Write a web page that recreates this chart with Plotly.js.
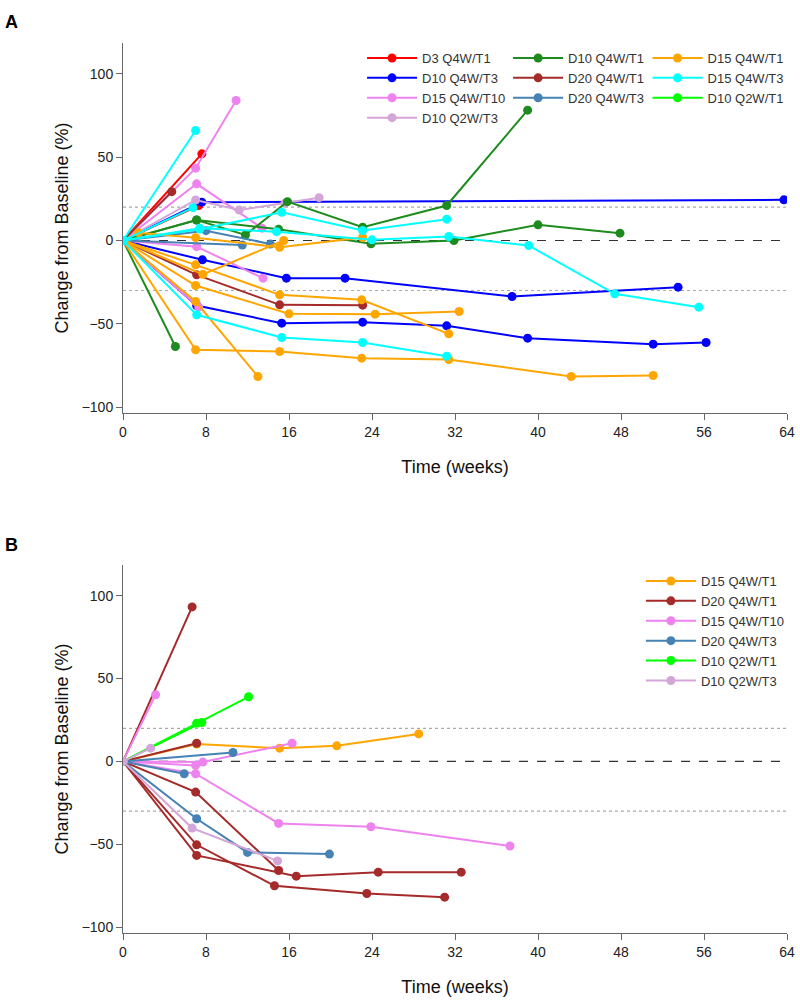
<!DOCTYPE html>
<html>
<head>
<meta charset="utf-8">
<script src="https://cdn.plot.ly/plotly-3.0.1.min.js"></script>
<style>
  html, body { margin: 0; padding: 0; background: #fff; }
  #chart { width: 800px; height: 1000px; }
</style>
</head>
<body>
<div id="chart"></div>
<script>
// ==== Panel A : weeks / % change per patient, grouped by cohort ====
const aD3Q4wT1Wk = [[0, 7.6], [0, 7.3]];
const aD3Q4wT1Pct = [[0, 52], [0, 21]];

const aD10Q4wT3Wk = [[0, 7.6, 63.7], [0, 7.65, 15.75, 21.4, 37.5, 53.5], [0, 7.1, 15.3, 23.1, 31.2, 39, 51.1, 56.2]];
const aD10Q4wT3Pct = [[0, 23, 24.4], [0, -11.6, -22.6, -22.6, -33.6, -28], [0, -39, -49.6, -49, -51.2, -58.6, -62.2, -61.2]];

const aD15Q4wT10Wk = [[0, 7, 10.9], [0, 7.1, 13.4], [0, 7.1, 13.5], [0, 7.3]];
const aD15Q4wT10Pct = [[0, 43.4, 84], [0, 34, 7.4], [0, -3.7, -22.6], [0, -40]];

const aD10Q2wT3Wk = [[0, 7, 11.2, 15.6, 18.9]];
const aD10Q2wT3Pct = [[0, 24.3, 18.3, 22.3, 25.7]];

const aD10Q4wT1Wk = [[0, 7.1, 11.8, 15.85, 23.1, 31.2, 39], [0, 7.1, 15, 23.9, 31.9, 40, 47.9], [0, 5.05]];
const aD10Q4wT1Pct = [[0, 12.3, 3.3, 23.3, 8, 21, 78.2], [0, 12.3, 6.7, -2, 0, 9.4, 4.4], [0, -63.6]];

const aD20Q4wT1Wk = [[0, 4.7], [0, 7.1, 15.1, 23.1]];
const aD20Q4wT1Pct = [[0, 29.3], [0, -20.6, -38.6, -38.8]];

const aD20Q4wT3Wk = [[0, 8, 14.2], [0, 11.5]];
const aD20Q4wT3Pct = [[0, 5.9, -2.1], [0, -2.7]];

const aD15Q4wT1Wk = [[0, 1.5, 7, 15.1, 23.1], [0, 7.7, 15.5], [0, 7, 15.1, 23, 31.4], [0, 7, 16, 24.3, 32.4], [0, 7, 13], [0, 7, 15.1, 23, 31.4, 43.2, 51.1]];
const aD15Q4wT1Pct = [[0, 4.7, 1.7, -4.1, 1.8], [0, -20.3, 0], [0, -14.6, -32.6, -35.6, -56], [0, -27, -44, -44.2, -42.6], [0, -36.6, -81.6], [0, -65.6, -66.6, -70.6, -71.4, -81.6, -81]];

const aD15Q4wT3Wk = [[0, 7], [0, 6.75], [0, 7.4, 15.3, 23.1, 31.2], [0, 7.4, 14.8, 24, 31.4, 39.1, 47.4, 55.5], [0, 7.1, 15.3, 23.1, 31.2]];
const aD15Q4wT3Pct = [[0, 66], [0, 19.7], [0, 6.8, 16.9, 6, 12.8], [0, 7.4, 5.3, 0.4, 2.4, -3, -32, -40], [0, -44.6, -58.2, -61.2, -69.4]];

// 凡例のみ（Aでは点なし）
const aD10Q2wT1Wk = [];
const aD10Q2wT1Pct = [];

// ==== Panel B ====
const bD15Q4wT1Wk = [[0, 7.1, 15.1, 20.6, 28.5]];
const bD15Q4wT1Pct = [[0, 10.5, 8, 9.4, 16.6]];

const bD20Q4wT1Wk = [[0, 6.66], [0, 7.1], [0, 7, 15], [0, 7.1, 14.6, 23.5, 31], [0, 7.1, 16.7, 24.6, 32.6]];
const bD20Q4wT1Pct = [[0, 93.2], [0, 11], [0, -18.5, -65.8], [0, -50.3, -75, -79.7, -81.9], [0, -56.7, -69.2, -66.8, -66.8]];

const bD15Q4wT10Wk = [[0, 3.14], [0, 7], [0, 7.7, 16.3], [0, 7, 15, 23.9, 37.3]];
const bD15Q4wT10Pct = [[0, 40.2], [0, -2.4], [0, -0.4, 11], [0, -7.4, -37.4, -39.4, -51]];

const bD20Q4wT3Wk = [[0, 10.6], [0, 5.9], [0, 7.1, 12, 19.9]];
const bD20Q4wT3Pct = [[0, 5.4], [0, -7.4], [0, -34.6, -54.9, -55.9]];

const bD10Q2wT1Wk = [[0, 7.1, 12.1], [0, 7.6]];
const bD10Q2wT1Pct = [[0, 23.1, 39], [0, 23.5]];

const bD10Q2wT3Wk = [[0, 2.66], [0, 6.66, 14.9]];
const bD10Q2wT3Pct = [[0, 8], [0, -40.2, -60]];

// 軸・参照線
const xTicks = [0, 8, 16, 24, 32, 40, 48, 56, 64];
const yTicks = [-100, -50, 0, 50, 100];
const dottedLevels = [20, -30];
const dashedLevel = 0;

// ==== 色 ====
const groupColors = {
  "D3 Q4W/T1": "#ff0000",
  "D10 Q4W/T3": "#0000ff",
  "D15 Q4W/T10": "#ee82ee",
  "D10 Q2W/T3": "#d4a5d9",
  "D10 Q4W/T1": "#1e8b1e",
  "D20 Q4W/T1": "#a52a2a",
  "D20 Q4W/T3": "#4682b4",
  "D15 Q4W/T1": "#ffa500",
  "D15 Q4W/T3": "#00ffff",
  "D10 Q2W/T1": "#00ff00"
};

// [name, weeks, pct, legend]
const panelA = [
  ["D3 Q4W/T1", aD3Q4wT1Wk, aD3Q4wT1Pct, "legend"],
  ["D10 Q4W/T3", aD10Q4wT3Wk, aD10Q4wT3Pct, "legend"],
  ["D15 Q4W/T10", aD15Q4wT10Wk, aD15Q4wT10Pct, "legend"],
  ["D10 Q2W/T3", aD10Q2wT3Wk, aD10Q2wT3Pct, "legend"],
  ["D10 Q4W/T1", aD10Q4wT1Wk, aD10Q4wT1Pct, "legend2"],
  ["D20 Q4W/T1", aD20Q4wT1Wk, aD20Q4wT1Pct, "legend2"],
  ["D20 Q4W/T3", aD20Q4wT3Wk, aD20Q4wT3Pct, "legend2"],
  ["D15 Q4W/T1", aD15Q4wT1Wk, aD15Q4wT1Pct, "legend3"],
  ["D15 Q4W/T3", aD15Q4wT3Wk, aD15Q4wT3Pct, "legend3"],
  ["D10 Q2W/T1", aD10Q2wT1Wk, aD10Q2wT1Pct, "legend3"]
];

const panelB = [
  ["D15 Q4W/T1", bD15Q4wT1Wk, bD15Q4wT1Pct, "legend4"],
  ["D20 Q4W/T1", bD20Q4wT1Wk, bD20Q4wT1Pct, "legend4"],
  ["D15 Q4W/T10", bD15Q4wT10Wk, bD15Q4wT10Pct, "legend4"],
  ["D20 Q4W/T3", bD20Q4wT3Wk, bD20Q4wT3Pct, "legend4"],
  ["D10 Q2W/T1", bD10Q2wT1Wk, bD10Q2wT1Pct, "legend4"],
  ["D10 Q2W/T3", bD10Q2wT3Wk, bD10Q2wT3Pct, "legend4"]
];

const FONT = "Liberation Sans, Arial, sans-serif";

function buildTraces(groups, xa, ya) {
  const traces = [];
  groups.forEach(([name, wkList, pctList, legendId]) => {
    const color = groupColors[name];
    // 点が無い群も凡例には出す（null 1点のダミー）
    const xs = wkList.length ? wkList : [[null]];
    const ys = wkList.length ? pctList : [[null]];
    xs.forEach((wk, i) => {
      traces.push({
        type: "scatter",
        mode: "lines+markers",
        x: wk,
        y: ys[i],
        xaxis: xa,
        yaxis: ya,
        name: name,
        legend: legendId,
        legendgroup: legendId + name,
        showlegend: i === 0,
        line: { color: color, width: 2 },
        marker: { color: color, size: 9 },
        hoverinfo: "skip"
      });
    });
  });
  return traces;
}

const data = [...buildTraces(panelA, "x", "y"), ...buildTraces(panelB, "x2", "y2")];

function refShapes(xref, yref) {
  const shapes = dottedLevels.map((lv) => ({
    type: "line", xref: xref, yref: yref, x0: 0, x1: 64, y0: lv, y1: lv,
    line: { color: "#aaaaaa", width: 1.2, dash: "dot" }, layer: "below"
  }));
  shapes.push({
    type: "line", xref: xref, yref: yref, x0: 0, x1: 64, y0: dashedLevel, y1: dashedLevel,
    line: { color: "#333333", width: 1.2, dash: "dash" }, layer: "below"
  });
  return shapes;
}

function xAxis(anchor) {
  return {
    anchor: anchor,
    domain: [0, 1],
    range: [0, 64],
    tickvals: xTicks,
    ticks: "outside",
    ticklen: 6,
    tickcolor: "#666",
    showline: true,
    linecolor: "#666",
    linewidth: 1,
    showgrid: false,
    zeroline: false,
    tickfont: { family: FONT, size: 14, color: "#222" },
    title: { text: "Time (weeks)", font: { family: FONT, size: 18, color: "#111" }, standoff: 21 }
  };
}

function yAxis(anchor, domain) {
  return {
    anchor: anchor,
    domain: domain,
    range: [-103.5, 118.5],
    tickvals: yTicks,
    ticks: "outside",
    ticklen: 6,
    tickcolor: "#666",
    showline: true,
    linecolor: "#666",
    linewidth: 1,
    showgrid: false,
    zeroline: false,
    tickfont: { family: FONT, size: 14, color: "#222" },
    title: { text: "Change from Baseline (%)", font: { family: FONT, size: 18, color: "#111" }, standoff: 8 }
  };
}

function legendBox(x, y) {
  return {
    x: x, y: y, xanchor: "left", yanchor: "top",
    bgcolor: "rgba(0,0,0,0)",
    font: { family: FONT, size: 13, color: "#333" },
    itemwidth: 50,
    tracegroupgap: 0
  };
}

const layout = {
  width: 800,
  height: 1000,
  margin: { l: 123, r: 13, t: 0, b: 0 },
  paper_bgcolor: "#fff",
  plot_bgcolor: "#fff",
  font: { family: FONT },
  xaxis: xAxis("y"),
  yaxis: yAxis("x", [0.587, 0.957]),
  xaxis2: xAxis("y2"),
  yaxis2: yAxis("x2", [0.067, 0.435]),
  legend: legendBox(0.36, 0.957),
  legend2: legendBox(0.58, 0.957),
  legend3: legendBox(0.79, 0.957),
  legend4: legendBox(0.78, 0.434),
  shapes: [...refShapes("x", "y"), ...refShapes("x2", "y2")],
  annotations: [
    { text: "<b>A</b>", xref: "paper", yref: "paper", x: -0.181, y: 0.978, xanchor: "left", yanchor: "middle",
      showarrow: false, font: { family: FONT, size: 18, color: "#000" } },
    { text: "<b>B</b>", xref: "paper", yref: "paper", x: -0.181, y: 0.455, xanchor: "left", yanchor: "middle",
      showarrow: false, font: { family: FONT, size: 18, color: "#000" } }
  ]
};

Plotly.newPlot("chart", data, layout, { staticPlot: true });
</script>
</body>
</html>
